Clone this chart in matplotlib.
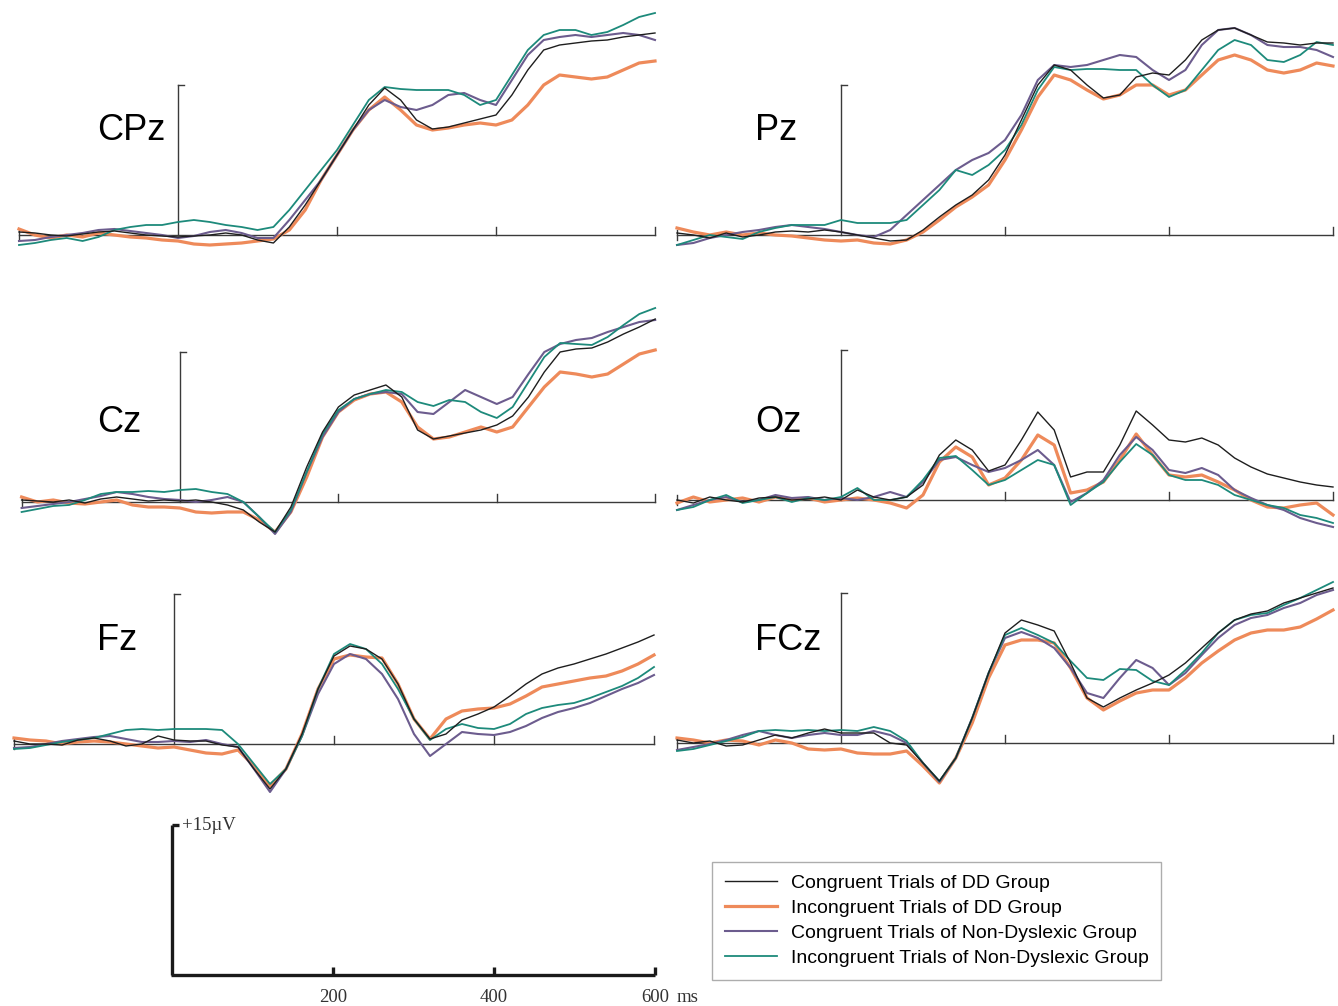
import matplotlib
matplotlib.use("Agg")
import matplotlib.pyplot as plt
from matplotlib.lines import Line2D

# figure is 1338 x 1006 px
W, H = 1338, 1006

# time grid (ms)
times = list(range(-200, 601, 20))

series_labels = ["Congruent Trials of DD Group",
                 "Incongruent Trials of DD Group",
                 "Congruent Trials of Non-Dyslexic Group",
                 "Incongruent Trials of Non-Dyslexic Group"]

# ---- CPz (uV) ----
cpz_cong_dd = [0.3, 0.2, 0.0, -0.1, 0.1, 0.3, 0.4, 0.2, 0.0, -0.1, -0.2, -0.1, 0.0, 0.2, 0.0,
               -0.5, -0.8, 0.8, 3.0, 5.5, 8.0, 10.5, 13.0, 14.7, 13.5, 11.5, 10.6, 10.8, 11.2,
               11.6, 12.0, 14.0, 16.5, 18.5, 19.0, 19.2, 19.4, 19.5, 19.8, 20.0, 20.2]
cpz_incong_dd = [0.6, 0.0, -0.3, 0.0, -0.2, 0.2, 0.0, -0.2, -0.3, -0.5, -0.6, -0.9, -1.0, -0.9,
                 -0.8, -0.6, -0.4, 0.5, 2.5, 5.5, 8.0, 10.5, 12.5, 13.8, 12.5, 11.0, 10.5, 10.7,
                 11.0, 11.2, 11.0, 11.5, 13.0, 15.0, 16.0, 15.8, 15.6, 15.8, 16.5, 17.2, 17.4]
cpz_cong_nd = [-0.6, -0.5, -0.2, 0.0, 0.2, 0.5, 0.6, 0.4, 0.2, 0.0, -0.3, -0.1, 0.3, 0.5, 0.2,
               -0.3, -0.3, 1.5, 3.5, 5.5, 8.0, 10.5, 12.5, 13.5, 12.8, 12.5, 13.0, 14.0, 14.2,
               13.5, 13.0, 15.5, 18.0, 19.5, 19.8, 20.0, 19.8, 20.0, 20.2, 20.0, 19.5]
cpz_incong_nd = [-1.0, -0.8, -0.5, -0.3, -0.6, -0.2, 0.5, 0.8, 1.0, 1.0, 1.3, 1.5, 1.3, 1.0,
                 0.8, 0.5, 0.8, 2.5, 4.5, 6.5, 8.5, 11.0, 13.5, 14.8, 14.6, 14.5, 14.5, 14.5,
                 14.0, 13.0, 13.5, 16.0, 18.5, 20.0, 20.5, 20.5, 20.0, 20.3, 21.0, 21.8, 22.2]

# ---- Pz ----
pz_cong_dd = [0.2, 0.0, -0.3, 0.2, -0.2, 0.0, 0.3, 0.4, 0.3, 0.5, 0.3, 0.0, -0.3, -0.6, -0.5,
              0.5, 1.8, 3.0, 4.0, 5.5, 8.0, 11.5, 15.0, 17.0, 16.5, 15.0, 13.7, 14.0, 15.8,
              16.2, 16.0, 17.5, 19.5, 20.5, 20.7, 20.0, 19.3, 19.2, 19.0, 19.2, 19.2]
pz_incong_dd = [0.7, 0.3, 0.0, 0.3, 0.0, 0.2, 0.0, -0.1, -0.3, -0.5, -0.6, -0.5, -0.8, -0.9,
                -0.5, 0.3, 1.5, 2.8, 3.8, 5.0, 7.5, 10.5, 13.8, 16.0, 15.5, 14.5, 13.6, 14.0,
                15.0, 15.0, 14.0, 14.5, 16.0, 17.5, 18.0, 17.5, 16.5, 16.2, 16.5, 17.2, 16.9]
pz_cong_nd = [-1.0, -0.8, -0.3, 0.0, 0.3, 0.5, 0.8, 1.0, 0.8, 0.6, 0.3, 0.0, -0.2, 0.5, 2.0,
              3.5, 5.0, 6.5, 7.5, 8.2, 9.5, 12.0, 15.5, 17.0, 16.8, 17.0, 17.5, 18.0, 17.8,
              16.5, 15.5, 16.5, 19.0, 20.5, 20.7, 20.0, 19.0, 18.8, 18.8, 18.5, 17.8]
pz_incong_nd = [-1.0, -0.5, 0.0, -0.2, -0.4, 0.3, 0.7, 1.0, 1.0, 1.0, 1.5, 1.2, 1.2, 1.2, 1.5,
                3.0, 4.5, 6.5, 6.0, 7.0, 8.5, 11.0, 14.5, 16.8, 16.5, 16.6, 16.6, 16.5, 16.5,
                15.0, 13.8, 14.5, 16.5, 18.5, 19.5, 19.0, 17.5, 17.3, 18.0, 19.3, 19.0]

# ---- Cz ----
cz_cong_dd = [0.2, 0.1, 0.0, 0.2, -0.1, 0.3, 0.5, 0.3, 0.1, 0.2, 0.1, 0.2, 0.0, -0.3, -0.8,
              -2.0, -3.0, -0.5, 3.5, 7.0, 9.5, 10.7, 11.2, 11.7, 10.5, 7.2, 6.3, 6.6, 6.9,
              7.2, 7.7, 8.6, 10.5, 13.0, 15.0, 15.3, 15.4, 16.0, 16.8, 17.5, 18.3]
cz_incong_dd = [0.5, 0.0, 0.2, -0.1, -0.2, 0.0, 0.2, -0.3, -0.5, -0.5, -0.6, -1.0, -1.1, -1.0,
                -1.0, -1.8, -3.0, -1.0, 2.5, 6.5, 9.0, 10.2, 10.8, 11.0, 10.0, 7.5, 6.3, 6.5,
                7.0, 7.5, 7.0, 7.5, 9.5, 11.5, 13.0, 12.8, 12.5, 12.8, 13.8, 14.8, 15.2]
cz_cong_nd = [-0.6, -0.4, -0.2, 0.0, 0.3, 0.6, 1.0, 0.8, 0.5, 0.3, 0.2, 0.0, 0.2, 0.5, 0.0,
              -1.5, -3.2, -1.0, 3.0, 6.5, 9.0, 10.3, 10.8, 11.0, 10.8, 9.0, 8.8, 10.0, 11.2,
              10.5, 9.8, 10.5, 12.8, 15.0, 15.8, 16.2, 16.4, 17.0, 17.5, 18.0, 18.2]
cz_incong_nd = [-1.0, -0.7, -0.4, -0.3, 0.2, 0.8, 1.0, 1.0, 1.1, 1.0, 1.2, 1.3, 1.0, 0.8, 0.0,
                -1.5, -3.0, -0.8, 3.0, 6.8, 9.2, 10.3, 10.8, 11.2, 11.0, 10.0, 9.6, 10.2, 10.0,
                9.0, 8.4, 9.5, 12.0, 14.5, 15.9, 15.8, 15.7, 16.5, 17.7, 18.8, 19.4]

# ---- Oz ----
oz_cong_dd = [0.0, -0.3, 0.3, 0.0, -0.2, 0.2, 0.3, 0.0, 0.1, 0.3, 0.0, 1.0, 0.3, 0.0, 0.3,
              1.5, 4.5, 6.0, 5.0, 2.9, 3.5, 6.0, 8.8, 7.0, 2.3, 2.8, 2.8, 5.5, 8.9, 7.5, 6.0,
              5.8, 6.2, 5.5, 4.2, 3.3, 2.6, 2.2, 1.8, 1.5, 1.3]
oz_incong_dd = [-0.3, 0.3, -0.2, 0.0, 0.2, -0.2, 0.3, 0.0, 0.2, -0.2, 0.0, 0.2, 0.0, -0.3, -0.8,
                0.5, 3.8, 5.3, 4.3, 1.5, 2.2, 4.0, 6.5, 5.5, 0.7, 1.0, 1.8, 4.0, 6.6, 4.5, 2.5,
                2.3, 2.5, 1.8, 1.0, 0.0, -0.7, -0.8, -0.5, -0.3, -1.5]
oz_cong_nd = [-1.0, -0.5, 0.0, 0.3, -0.2, 0.0, 0.5, 0.2, 0.3, 0.0, 0.2, 0.0, 0.3, 0.8, 0.3,
              1.8, 4.0, 4.3, 3.5, 2.8, 3.2, 4.0, 5.0, 3.5, -0.2, 0.7, 2.0, 4.5, 6.3, 5.0, 3.0,
              2.7, 3.2, 2.5, 1.0, 0.2, -0.5, -1.0, -1.8, -2.3, -2.7]
oz_incong_nd = [-1.0, -0.7, 0.0, 0.5, -0.3, 0.0, 0.3, -0.2, 0.2, 0.0, 0.3, 1.2, 0.0, 0.0, 0.3,
                2.0, 4.2, 4.4, 3.0, 1.5, 2.0, 3.0, 4.0, 3.5, -0.5, 0.7, 1.8, 3.8, 5.6, 4.5, 2.5,
                2.0, 2.0, 1.5, 0.5, 0.0, -0.5, -0.8, -1.5, -1.8, -2.3]

# ---- Fz ----
fz_cong_dd = [0.3, 0.0, 0.0, -0.1, 0.4, 0.6, 0.3, -0.2, 0.0, 0.8, 0.4, 0.3, 0.3, -0.1, -0.3,
              -2.5, -4.5, -2.5, 1.0, 5.5, 8.8, 9.8, 9.5, 8.5, 6.0, 2.5, 0.5, 1.0, 2.4, 3.0,
              3.7, 4.8, 6.0, 7.0, 7.6, 8.0, 8.5, 9.0, 9.6, 10.2, 10.9]
fz_incong_dd = [0.6, 0.4, 0.3, 0.0, 0.2, 0.3, 0.2, 0.0, -0.2, -0.4, -0.3, -0.6, -0.9, -1.0,
                -0.6, -2.2, -4.2, -2.5, 1.0, 5.5, 8.5, 8.9, 8.7, 8.6, 6.0, 2.5, 0.5, 2.5, 3.3,
                3.5, 3.6, 4.0, 4.8, 5.7, 6.0, 6.3, 6.6, 6.8, 7.3, 8.0, 8.9]
fz_cong_nd = [-0.4, -0.3, 0.0, 0.3, 0.5, 0.7, 0.8, 0.5, 0.2, 0.2, 0.3, 0.2, 0.4, 0.0, -0.3,
              -2.5, -4.8, -2.5, 0.8, 5.0, 8.0, 9.0, 8.5, 7.0, 4.5, 1.0, -1.2, 0.0, 1.2, 1.0,
              0.9, 1.2, 1.8, 2.6, 3.2, 3.6, 4.1, 4.8, 5.5, 6.1, 6.9]
fz_incong_nd = [-0.5, -0.4, -0.1, 0.2, 0.4, 0.6, 1.0, 1.4, 1.5, 1.4, 1.5, 1.5, 1.5, 1.4, 0.0,
                -2.0, -4.0, -2.5, 0.8, 5.5, 9.0, 10.0, 9.5, 8.0, 5.5, 2.5, 0.4, 1.5, 2.0, 1.6,
                1.5, 2.0, 3.0, 3.6, 3.9, 4.1, 4.6, 5.2, 5.8, 6.6, 7.7]

# ---- FCz ----
fcz_cong_dd = [0.3, 0.0, 0.2, -0.3, -0.2, 0.3, 0.8, 0.5, 1.0, 1.4, 1.0, 1.0, 1.0, 0.0, -0.2,
               -2.0, -3.8, -1.5, 2.5, 7.0, 11.0, 12.3, 11.8, 11.2, 8.0, 4.5, 3.6, 4.5, 5.3,
               6.0, 6.8, 8.0, 9.5, 11.0, 12.3, 12.9, 13.2, 14.0, 14.5, 15.0, 15.5]
fcz_incong_dd = [0.5, 0.3, 0.0, 0.3, 0.2, -0.2, 0.3, 0.0, -0.6, -0.7, -0.6, -1.0, -1.1, -1.1,
                 -0.8, -2.3, -4.0, -1.5, 2.0, 6.5, 9.8, 10.3, 10.3, 10.0, 7.5, 4.5, 3.3, 4.2,
                 5.0, 5.3, 5.3, 6.5, 8.0, 9.2, 10.3, 11.0, 11.3, 11.3, 11.6, 12.4, 13.3]
fcz_cong_nd = [-0.7, -0.4, -0.1, 0.3, 0.8, 1.2, 0.8, 0.5, 0.8, 1.0, 0.8, 0.8, 1.2, 0.8, 0.0,
               -2.0, -3.9, -1.5, 2.5, 7.0, 10.5, 11.1, 10.5, 9.5, 7.5, 5.0, 4.5, 6.5, 8.3, 7.5,
               5.8, 7.0, 8.8, 10.5, 11.8, 12.5, 12.8, 13.5, 14.0, 14.8, 15.3]
fcz_incong_nd = [-0.8, -0.6, -0.2, 0.2, 0.6, 1.2, 1.3, 1.2, 1.3, 1.2, 1.3, 1.2, 1.6, 1.2, 0.2,
                 -2.0, -3.8, -1.5, 2.5, 7.0, 10.8, 11.5, 10.8, 10.0, 8.2, 6.5, 6.3, 7.4, 7.3,
                 6.2, 5.8, 7.3, 9.0, 11.0, 12.3, 12.8, 13.0, 13.8, 14.5, 15.3, 16.1]

# styles per condition (orange drawn first, black last)
colors = ["#1e1e1e", "#ee8a5a", "#6c5c8e", "#1d8a7b"]
widths = [1.0, 2.3, 1.5, 1.3]
draw_order = [1, 2, 3, 0]

# panel geometry in pixels: (name, data, x of 0 ms, px per ms, baseline y, label x, label y)
panels = [
    ("CPz", [cpz_cong_dd, cpz_incong_dd, cpz_cong_nd, cpz_incong_nd], 178, 0.795, 235, 97, 130),
    ("Pz", [pz_cong_dd, pz_incong_dd, pz_cong_nd, pz_incong_nd], 841, 0.82, 235, 755, 130),
    ("Cz", [cz_cong_dd, cz_incong_dd, cz_cong_nd, cz_incong_nd], 180, 0.792, 502, 97, 422),
    ("Oz", [oz_cong_dd, oz_incong_dd, oz_cong_nd, oz_incong_nd], 841, 0.82, 500, 755, 422),
    ("Fz", [fz_cong_dd, fz_incong_dd, fz_cong_nd, fz_incong_nd], 174, 0.80, 744, 97, 640),
    ("FCz", [fcz_cong_dd, fcz_incong_dd, fcz_cong_nd, fcz_incong_nd], 841, 0.82, 743, 755, 640),
]

PX_PER_UV = 10.0
AX_COLOR = "#3a3a3a"

fig = plt.figure(figsize=(W / 100, H / 100), dpi=100)
fig.patch.set_facecolor("white")


def add_axes_px(zero_x, pxms, base_y, ylo=-6.0, yhi=24.0):
    left_px = zero_x - 200 * pxms
    width_px = 800 * pxms
    top_px = base_y - yhi * PX_PER_UV
    bottom_px = base_y - ylo * PX_PER_UV
    ax = fig.add_axes([left_px / W, 1 - bottom_px / H, width_px / W, (bottom_px - top_px) / H])
    ax.set_xlim(-200, 600)
    ax.set_ylim(ylo, yhi)
    ax.axis("off")
    ax.patch.set_alpha(0)
    return ax


for name, data, zx, pxms, by, lx, ly in panels:
    ax = add_axes_px(zx, pxms, by)
    # axes drawn by hand, like the original figure
    ax.plot([-200, 600], [0, 0], color=AX_COLOR, lw=1.0, clip_on=False)
    ax.plot([0, 0], [0, 15], color=AX_COLOR, lw=1.0, clip_on=False)
    ax.plot([0, 7], [15, 15], color=AX_COLOR, lw=1.0, clip_on=False)
    ax.plot([-200, -200], [-0.5, 0.5], color=AX_COLOR, lw=1.0, clip_on=False)
    for t in (200, 400, 600):
        ax.plot([t, t], [0, 0.8], color=AX_COLOR, lw=1.0, clip_on=False)
    for i in draw_order:
        ax.plot(times, data[i], color=colors[i], lw=widths[i], clip_on=False,
                solid_joinstyle="round")
    fig.text(lx / W, 1 - ly / H, name, fontsize=26, family="Liberation Sans",
             ha="left", va="center", color="black")

# scale bar
sb = add_axes_px(172, 0.805, 975, ylo=-4, yhi=17)
sb.plot([0, 0], [0, 15], color="#1a1a1a", lw=2.4, clip_on=False, solid_capstyle="butt")
sb.plot([-1, 600], [0, 0], color="#1a1a1a", lw=2.4, clip_on=False, solid_capstyle="butt")
sb.plot([0, 9], [15, 15], color="#1a1a1a", lw=2.4, clip_on=False, solid_capstyle="butt")
for t in (200, 400, 600):
    sb.plot([t, t], [0, 0.8], color="#1a1a1a", lw=2.4, clip_on=False, solid_capstyle="butt")
    sb.text(t, -2.2, str(t), ha="center", va="center", fontsize=13.5,
            family="Liberation Serif", color="#333333")
sb.text(627, -2.2, "ms", ha="left", va="center", fontsize=13.5,
        family="Liberation Serif", color="#333333")
sb.text(12, 15, "+15\u00b5V", ha="left", va="center", fontsize=13.5,
        family="Liberation Serif", color="#333333")

# legend
handles = [Line2D([], [], color=colors[i], lw=widths[i]) for i in range(4)]
leg = fig.legend(handles, series_labels, loc="upper left",
                 bbox_to_anchor=(712 / W, 1 - 862 / H), borderaxespad=0,
                 frameon=True, fancybox=False, edgecolor="#999999",
                 prop={"family": "Liberation Sans", "size": 14},
                 handlelength=2.7, handletextpad=0.7, labelspacing=0.38, borderpad=0.65)
leg.get_frame().set_linewidth(1.0)

fig.savefig("out.png", dpi=100, facecolor="white")
